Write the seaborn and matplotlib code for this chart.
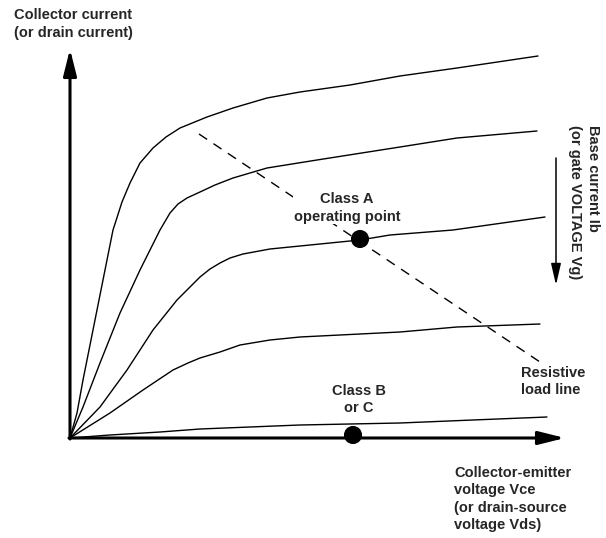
import numpy as np
import matplotlib
matplotlib.use('Agg')
import matplotlib.pyplot as plt
import pandas as pd
import seaborn as sns

# Output characteristic curves (x = Vce, y = Ic, arbitrary units)
c1_x = [0, 7, 13, 23, 33, 43, 52, 60, 70, 83, 96, 110, 137, 163, 197, 230, 280, 330, 387, 468]
c1_y = [0, 25, 58, 108, 158, 208, 236, 255, 275, 290, 301, 310, 321, 330, 340, 346, 353, 362, 370, 382]
c2_x = [0, 13, 30, 50, 70, 90, 100, 108, 117, 130, 145, 163, 197, 247, 330, 387, 467]
c2_y = [0, 31, 75, 125, 168, 208, 225, 234, 240, 246, 253, 260, 270, 278, 291, 300, 307]
c3_x = [0, 30, 57, 83, 107, 120, 130, 140, 150, 160, 173, 200, 230, 290, 320, 383, 475]
c3_y = [0, 31, 68, 108, 138, 151, 161, 169, 175, 180, 184, 189, 192, 198, 203, 208, 221]
c4_x = [0, 40, 73, 103, 118, 130, 150, 170, 200, 230, 330, 387, 470]
c4_y = [0, 25, 48, 68, 75, 80, 86, 93, 98, 101, 106, 111, 114]
c5_x = [0, 40, 90, 130, 230, 330, 403, 477]
c5_y = [0, 3, 6, 9, 13, 15, 18, 21]

# Resistive load line end points
load_x = [129, 470]
load_y = [304, 76]

# Operating points
op_labels = ['Class A', 'Class B']
op_x = [290, 283]
op_y = [199, 3]

curves = pd.concat([
    pd.DataFrame({'vce': c1_x, 'ic': c1_y, 'curve': 'c1'}),
    pd.DataFrame({'vce': c2_x, 'ic': c2_y, 'curve': 'c2'}),
    pd.DataFrame({'vce': c3_x, 'ic': c3_y, 'curve': 'c3'}),
    pd.DataFrame({'vce': c4_x, 'ic': c4_y, 'curve': 'c4'}),
    pd.DataFrame({'vce': c5_x, 'ic': c5_y, 'curve': 'c5'}),
], ignore_index=True)
points = pd.DataFrame({'vce': op_x, 'ic': op_y, 'label': op_labels})

sns.set_style('white')
plt.rcParams['font.family'] = ['Liberation Sans', 'DejaVu Sans']
plt.rcParams['font.weight'] = 'bold'

fig = plt.figure(figsize=(6.06, 5.38), dpi=100)
ax = fig.add_axes([0, 0, 1, 1])
ax.set_xlim(-70, 536)
ax.set_ylim(-100, 438)
ax.axis('off')

sns.lineplot(data=curves, x='vce', y='ic', units='curve', estimator=None, sort=False,
             color='black', linewidth=1.0, ax=ax)
ax.plot(load_x, load_y, color='black', linewidth=1.0, dashes=(7, 5.5))
sns.scatterplot(data=points, x='vce', y='ic', color='black', s=170, edgecolor='none',
                zorder=5, ax=ax)

# axes with arrow heads
arrow_kw = dict(arrowstyle='-|>,head_length=1.6,head_width=0.4', color='black',
                lw=2.2, shrinkA=0, shrinkB=0, mutation_scale=10)
ax.annotate('', xy=(0, 389), xytext=(0, -1), arrowprops=arrow_kw)
ax.annotate('', xy=(495, 0), xytext=(-1, 0), arrowprops=arrow_kw)
ax.annotate('', xy=(486, 153), xytext=(486, 280),
            arrowprops=dict(arrowstyle='-|>,head_length=1.3,head_width=0.3', color='black',
                            lw=1.1, shrinkA=0, shrinkB=0, mutation_scale=10))

fs = 10.5
ls = 1.32
ax.text(-56, 414, 'Collector current\n(or drain current)', fontsize=fs, fontweight='bold',
        ha='left', va='center', linespacing=ls)
ax.text(277, 230, 'Class A\noperating point', fontsize=fs, fontweight='bold',
        ha='center', va='center', multialignment='center', linespacing=ls,
        bbox=dict(facecolor='white', edgecolor='none', pad=0.5), zorder=4)
ax.text(289, 38.5, 'Class B\nor C', fontsize=fs, fontweight='bold',
        ha='center', va='center', multialignment='center', linespacing=ls)
ax.text(451, 56.5, 'Resistive\nload line', fontsize=fs, fontweight='bold',
        ha='left', va='center', linespacing=ls)
ax.text(384, -61, 'Collector-emitter\nvoltage Vce\n(or drain-source\nvoltage Vds)',
        fontsize=fs, fontweight='bold', ha='left', va='center', linespacing=ls)
ax.text(514, 313, 'Base current Ib\n(or gate VOLTAGE Vg)', fontsize=fs, fontweight='bold',
        rotation=-90, ha='center', va='top', multialignment='left', linespacing=ls)

plt.savefig('out.png', dpi=100)
